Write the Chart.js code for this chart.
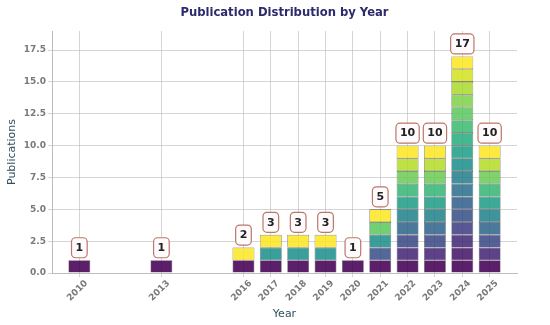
<!DOCTYPE html>
<html>
<head>
<meta charset="utf-8">
<script src="https://cdn.jsdelivr.net/npm/chart.js@4.4.0/dist/chart.umd.min.js"></script>
<style>
  body { margin: 0; background: #fff; }
  #wrap { width: 550px; height: 325px; position: relative; }
</style>
</head>
<body>
<div id="wrap"><canvas id="myChart"></canvas></div>
<script>
// data
var years = [2010, 2013, 2016, 2017, 2018, 2019, 2020, 2021, 2022, 2023, 2024, 2025];
var counts = [1, 1, 2, 3, 3, 3, 1, 5, 10, 10, 17, 10];
var yTicks = [0, 2.5, 5, 7.5, 10, 12.5, 15, 17.5];

// viridis stops, used to colour each unit block
var viridis = ['#440154', '#482475', '#414487', '#355f8d', '#2a788e', '#21918c',
               '#22a884', '#44bf70', '#7ad151', '#bddf26', '#fde725'];

function viridisAt(t, alpha) {
    var p = Math.max(0, Math.min(1, t)) * (viridis.length - 1);
    var i = Math.min(Math.floor(p), viridis.length - 2);
    var f = p - i;
    var a = viridis[i], b = viridis[i + 1];
    var c = [1, 3, 5].map(function (k) {
        var u = parseInt(a.substr(k, 2), 16), v = parseInt(b.substr(k, 2), 16);
        return Math.round(u + (v - u) * f);
    });
    return 'rgba(' + c[0] + ',' + c[1] + ',' + c[2] + ',' + alpha + ')';
}

// one dataset per unit level, so every bar is a stack of 1-high blocks
var maxCount = Math.max.apply(null, counts);
var datasets = [];
for (var k = 0; k < maxCount; k++) {
    var pts = [], cols = [];
    years.forEach(function (yr, i) {
        if (counts[i] > k) {
            pts.push({ x: yr, y: 1 });
            cols.push(viridisAt(counts[i] > 1 ? k / (counts[i] - 1) : 0, 0.88));
        }
    });
    datasets.push({
        data: pts,
        backgroundColor: cols,
        borderColor: 'rgba(35,35,35,0.7)',
        borderWidth: 0.6,
        borderSkipped: false,
        barPercentage: 1.0,
        categoryPercentage: 0.8
    });
}

var tickFont = { family: 'DejaVu Sans', size: 9, weight: 'bold' };

// title and value boxes
var extras = {
    id: 'extras',
    afterDraw: function (chart) {
        var ctx = chart.ctx, area = chart.chartArea;
        var xs = chart.scales.x, ys = chart.scales.y;
        ctx.save();
        ctx.fillStyle = '#2c2b6c';
        ctx.font = 'bold 11.6px "DejaVu Sans"';
        ctx.textAlign = 'center';
        ctx.textBaseline = 'middle';
        ctx.fillText('Publication Distribution by Year', (area.left + area.right) / 2, 12.5);

        ctx.font = 'bold 11px "DejaVu Sans"';
        years.forEach(function (yr, i) {
            var txt = String(counts[i]);
            var cx = xs.getPixelForValue(yr);
            var top = ys.getPixelForValue(counts[i]);
            var w = ctx.measureText(txt).width + 8;
            var h = 20;
            var bx = cx - w / 2, by = top - 2.5 - h;
            ctx.beginPath();
            ctx.roundRect(bx, by, w, h, 4);
            ctx.fillStyle = 'rgba(255,250,252,0.95)';
            ctx.fill();
            ctx.lineWidth = 1.2;
            ctx.strokeStyle = '#b9786a';
            ctx.stroke();
            ctx.fillStyle = '#222222';
            ctx.fillText(txt, cx, by + h / 2 + 0.5);
        });
        ctx.restore();
    }
};

var ctx = document.getElementById('myChart').getContext('2d');
var myChart = new Chart(ctx, {
    type: 'bar',
    data: { datasets: datasets },
    options: {
        responsive: true,
        maintainAspectRatio: false,
        animation: false,
        layout: { padding: { top: 31, right: 33, left: 0, bottom: 0 } },
        plugins: {
            legend: { display: false },
            tooltip: { enabled: false },
            title: { display: false }
        },
        scales: {
            x: {
                type: 'linear',
                stacked: true,
                offset: false,
                min: 2009,
                max: 2026,
                z: 1,
                afterBuildTicks: function (scale) {
                    scale.ticks = years.map(function (v) { return { value: v }; });
                },
                afterFit: function (scale) { scale.height = 52; },
                ticks: {
                    font: tickFont,
                    color: '#7a7a7a',
                    minRotation: 45,
                    maxRotation: 45,
                    labelOffset: 7,
                    padding: 1,
                    callback: function (v) { return String(v); }
                },
                grid: { color: 'rgba(185,185,185,0.6)', tickLength: 4, offset: false },
                border: { color: '#bdbdbd' },
                title: {
                    display: true,
                    text: 'Year',
                    color: '#2f4f5f',
                    font: { family: 'DejaVu Sans', size: 11 },
                    padding: { top: 0, bottom: 4 }
                }
            },
            y: {
                stacked: true,
                min: 0,
                max: 19,
                z: 1,
                afterBuildTicks: function (scale) {
                    scale.ticks = yTicks.map(function (v) { return { value: v }; });
                },
                afterFit: function (scale) { scale.width = 52; },
                ticks: {
                    font: tickFont,
                    color: '#7a7a7a',
                    padding: 2,
                    callback: function (v) { return v.toFixed(1); }
                },
                grid: { color: 'rgba(185,185,185,0.6)', tickLength: 4 },
                border: { color: '#bdbdbd' },
                title: {
                    display: true,
                    text: 'Publications',
                    color: '#2f4f5f',
                    font: { family: 'DejaVu Sans', size: 11 },
                    padding: { top: 6, bottom: 0 }
                }
            }
        }
    },
    plugins: [extras]
});
</script>
</body>
</html>
